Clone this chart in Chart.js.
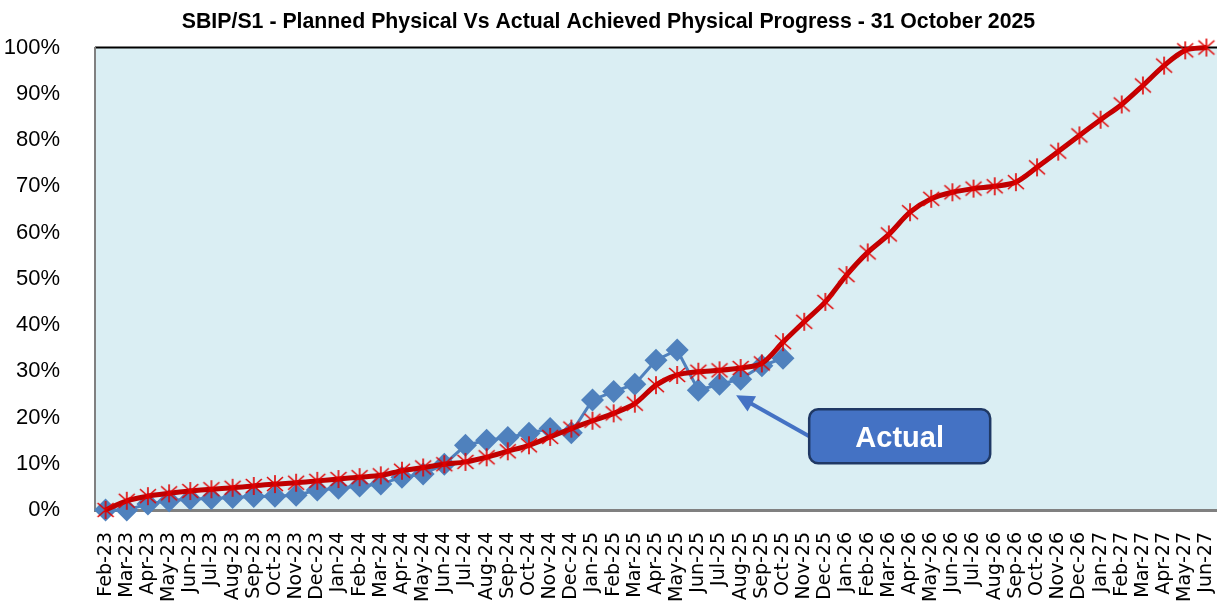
<!DOCTYPE html>
<html>
<head>
<meta charset="utf-8">
<script src="https://cdn.jsdelivr.net/npm/chart.js@4.4.0/dist/chart.umd.min.js"></script>
<style>
  html, body { margin: 0; padding: 0; background: #fff; }
  #wrap { width: 1217px; height: 608px; position: relative; }
</style>
</head>
<body>
<div id="wrap"><canvas id="chart"></canvas></div>
<script>
var months = [
    'Feb-23','Mar-23','Apr-23','May-23','Jun-23','Jul-23','Aug-23','Sep-23','Oct-23','Nov-23','Dec-23',
    'Jan-24','Feb-24','Mar-24','Apr-24','May-24','Jun-24','Jul-24','Aug-24','Sep-24','Oct-24','Nov-24','Dec-24',
    'Jan-25','Feb-25','Mar-25','Apr-25','May-25','Jun-25','Jul-25','Aug-25','Sep-25','Oct-25','Nov-25','Dec-25',
    'Jan-26','Feb-26','Mar-26','Apr-26','May-26','Jun-26','Jul-26','Aug-26','Sep-26','Oct-26','Nov-26','Dec-26',
    'Jan-27','Feb-27','Mar-27','Apr-27','May-27','Jun-27'
];

// planned physical progress, %
var planned = [
    0, 2.0, 3.0, 3.6, 4.1, 4.5, 4.8, 5.2, 5.6, 5.9, 6.3,
    6.7, 7.1, 7.5, 8.5, 9.2, 9.9, 10.4, 11.4, 12.7, 14.0, 15.8, 17.6,
    19.3, 20.9, 23.0, 27.0, 29.2, 29.9, 30.2, 30.7, 31.7, 36.3, 40.7, 45.0,
    50.8, 55.7, 59.6, 64.4, 67.3, 68.7, 69.5, 70.0, 70.9, 74.1, 77.5, 81.0,
    84.4, 87.7, 91.8, 96.1, 99.4, 100
];

// actual achieved progress, % (up to Oct-25)
var actual = [
    0, 0, 1.3, 2.0, 2.4, 2.5, 2.7, 2.9, 3.0, 3.2, 4.3,
    4.7, 5.2, 5.6, 7.1, 7.8, 9.9, 14.0, 15.1, 15.7, 16.6, 17.6, 16.7,
    23.8, 25.6, 27.2, 32.4, 34.6, 25.9, 27.2, 28.3, 31.2, 32.8
];

var yTicks = [0, 10, 20, 30, 40, 50, 60, 70, 80, 90, 100];

// excel-like star marker (X plus vertical bar)
function starMarker(){
    var c = document.createElement('canvas');
    c.width = 20; c.height = 20;
    var g = c.getContext('2d');
    g.strokeStyle = '#E00000';
    g.lineWidth = 1.6;
    g.beginPath();
    g.moveTo(10, 1); g.lineTo(10, 19);
    g.moveTo(2, 3); g.lineTo(18, 17);
    g.moveTo(18, 3); g.lineTo(2, 17);
    g.stroke();
    return c;
}

var plotDecor = {
    id: 'plotDecor',
    beforeDraw: function(chart){
        var a = chart.chartArea, ctx = chart.ctx;
        ctx.save();
        ctx.fillStyle = '#DAEEF3';
        ctx.fillRect(a.left, a.top, a.right - a.left, a.bottom - a.top);
        ctx.strokeStyle = '#000';
        ctx.lineWidth = 2;
        ctx.beginPath();
        ctx.moveTo(a.left, a.top);
        ctx.lineTo(a.right, a.top);
        ctx.stroke();
        ctx.restore();
    },
    afterDraw: function(chart){
        var ctx = chart.ctx;
        var xs = chart.scales.x, ys = chart.scales.y;
        // arrow points at the Jul/Aug-25 actual markers
        var tipX = (xs.getPixelForValue(29) + xs.getPixelForValue(30)) / 2 + 6;
        var tipY = ys.getPixelForValue(actual[30]) + 16;
        var bx = xs.getPixelForValue(33) + 5, by = ys.getPixelForValue(21.8);
        var bw = 181, bh = 54;
        var sx = bx, sy = by + 27;

        ctx.save();
        var ang = Math.atan2(tipY - sy, tipX - sx);
        ctx.strokeStyle = '#4472C4';
        ctx.fillStyle = '#4472C4';
        ctx.lineWidth = 4;
        ctx.beginPath();
        ctx.moveTo(sx, sy);
        ctx.lineTo(tipX - Math.cos(ang) * 12, tipY - Math.sin(ang) * 12);
        ctx.stroke();
        ctx.beginPath();
        ctx.moveTo(tipX, tipY);
        ctx.lineTo(tipX - Math.cos(ang - 0.45) * 20, tipY - Math.sin(ang - 0.45) * 20);
        ctx.lineTo(tipX - Math.cos(ang + 0.45) * 20, tipY - Math.sin(ang + 0.45) * 20);
        ctx.closePath();
        ctx.fill();

        ctx.beginPath();
        ctx.roundRect(bx, by, bw, bh, 9);
        ctx.fillStyle = '#4472C4';
        ctx.fill();
        ctx.lineWidth = 2.5;
        ctx.strokeStyle = '#1F3864';
        ctx.stroke();

        ctx.fillStyle = '#fff';
        ctx.font = 'bold 29px "Liberation Sans", Arial, sans-serif';
        ctx.textAlign = 'center';
        ctx.textBaseline = 'middle';
        ctx.fillText('Actual', bx + bw / 2, by + bh / 2 + 3);
        ctx.restore();
    }
};

var myChart = new Chart(document.getElementById('chart'), {
    type: 'line',
    data: {
        labels: months,
        datasets: [
            {
                label: 'Planned',
                data: planned,
                borderColor: '#C00000',
                borderWidth: 5,
                tension: 0.3,
                pointStyle: starMarker(),
                pointRadius: 10,
                clip: false
            },
            {
                label: 'Actual',
                data: actual,
                borderColor: '#4F81BD',
                backgroundColor: '#4F81BD',
                borderWidth: 3,
                tension: 0,
                pointStyle: 'rectRot',
                pointRadius: 11.5,
                pointBorderWidth: 0,
                clip: false
            }
        ]
    },
    options: {
        responsive: true,
        maintainAspectRatio: false,
        animation: false,
        layout: { autoPadding: false, padding: 0 },
        plugins: {
            legend: { display: false },
            tooltip: { enabled: false },
            title: {
                display: true,
                text: 'SBIP/S1 - Planned Physical Vs Actual Achieved Physical Progress - 31 October 2025',
                color: '#000',
                font: { family: '"Liberation Sans", Arial, sans-serif', size: 21.3, weight: 'bold' },
                padding: { top: 9, bottom: 13 }
            }
        },
        scales: {
            x: {
                offset: true,
                grid: { display: false },
                border: { display: true, color: '#808080', width: 3 },
                ticks: {
                    autoSkip: false,
                    maxRotation: 90,
                    minRotation: 90,
                    padding: 14,
                    color: '#000',
                    font: { family: '"DejaVu Sans", sans-serif', size: 19 }
                },
                afterFit: function(s){
                    s.height = 98;
                    s.paddingLeft = 0;
                    s.paddingRight = 0;
                }
            },
            y: {
                min: 0,
                max: 100,
                afterBuildTicks: function(s){ s.ticks = yTicks.map(function(v){ return { value: v }; }); },
                grid: { display: false },
                border: { display: true, color: '#808080', width: 2 },
                ticks: {
                    padding: 27,
                    color: '#000',
                    font: { family: '"Liberation Sans", Arial, sans-serif', size: 22 },
                    callback: function(v){ return v + '%'; }
                },
                afterFit: function(s){
                    s.width = 95;
                    s.paddingTop = 0;
                    s.paddingBottom = 0;
                }
            }
        }
    },
    plugins: [plotDecor]
});
</script>
</body>
</html>
